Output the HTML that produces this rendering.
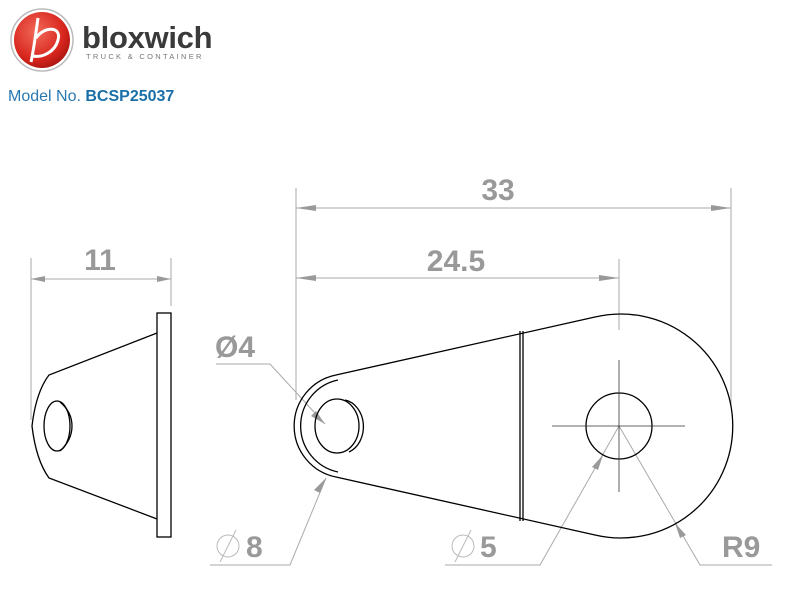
<!DOCTYPE html>
<html><head><meta charset="utf-8"><style>
html,body{margin:0;padding:0;background:#fff;width:800px;height:590px;overflow:hidden}
</style></head><body>
<svg width="800" height="590" viewBox="0 0 800 590" xmlns="http://www.w3.org/2000/svg">
<defs>
<radialGradient id="rg" cx="0.4" cy="0.35" r="0.7"><stop offset="0" stop-color="#f26a5a"/><stop offset="0.7" stop-color="#d8261e"/><stop offset="1" stop-color="#a9140f"/></radialGradient>
</defs>
<circle cx="42" cy="40" r="31" fill="#fff" stroke="#bbb" stroke-width="1.5"/>
<circle cx="42" cy="40" r="28" fill="url(#rg)"/>
<path d="M38,18 C36,32 34,48 31,62 M36,38 C44,26 62,26 58,40 C55,52 42,58 33,56" fill="none" stroke="#fff" stroke-width="3"/>
<text x="82" y="48" font-family="Liberation Sans, sans-serif" font-weight="bold" font-size="31" fill="#3a3a3a" letter-spacing="-0.3">bloxwich</text>
<text x="86" y="59" font-family="Liberation Sans, sans-serif" font-size="7.5" fill="#777" letter-spacing="2.3">TRUCK &amp; CONTAINER</text>
<text x="8" y="101" font-family="Liberation Sans, sans-serif" font-size="16" fill="#2a78b0">Model No. <tspan font-weight="bold" fill="#1a6fa8">BCSP25037</tspan></text>

<g stroke="#aaa" stroke-width="1" fill="none">
<line x1="31" y1="258" x2="31" y2="420"/><line x1="171" y1="258" x2="171" y2="306"/>
<line x1="31" y1="279" x2="171" y2="279"/>
<line x1="296" y1="188" x2="296" y2="400"/><line x1="731" y1="188" x2="731" y2="405"/>
<line x1="296" y1="208" x2="731" y2="208"/>
<line x1="296" y1="278" x2="619" y2="278"/>
<line x1="619" y1="259" x2="619" y2="330"/>
<polyline points="216,364 270,364 325,424"/>
<polyline points="210,565 290,565 326,478"/>
<polyline points="445,565 540,565 619,426"/>
<polyline points="619,426 700,565 772,565"/>
</g>
<g fill="#999">
<polygon points="31,279 45,276 45,282"/><polygon points="171,279 157,276 157,282"/>
<polygon points="296,208 316,205 316,211"/><polygon points="731,208 711,205 711,211"/>
<polygon points="296,278 316,275 316,281"/><polygon points="619,278 599,275 599,281"/>
<polygon points="325,424 311,416 316,411"/>
<polygon points="326,478 320,493 314,490"/>
<polygon points="603,455 598,470 592,467"/>
<polygon points="675,523 686,535 680,538"/>
</g>
<g font-family="Liberation Sans, sans-serif" font-weight="bold" font-size="30" fill="#999">
<text x="100" y="270" text-anchor="middle">11</text>
<text x="498" y="200" text-anchor="middle">33</text>
<text x="456" y="271" text-anchor="middle">24.5</text>
<text x="215" y="357">Ø4</text>
<text x="246" y="557">8</text>
<text x="480" y="557">5</text>
<text x="722" y="557">R9</text>
</g>
<g stroke="#bbb" fill="none" stroke-width="1">
<circle cx="228" cy="546" r="11"/><line x1="220" y1="562" x2="236" y2="530"/>
<circle cx="463" cy="546" r="11"/><line x1="455" y1="562" x2="471" y2="530"/>
</g>

<g stroke="#000" stroke-width="1.3" fill="none">
<rect x="157" y="313" width="14" height="224"/>
<path d="M157,333 L49,375 Q36,392 32,426 Q36,460 49,478 L157,519"/>
<ellipse cx="57" cy="426" rx="13" ry="25"/>
<path d="M60,402 Q72,412 72,426 Q72,440 60,451"/>
<path d="M336,375 L595,317 A112,112 0 1 1 595,535 L336,477 A52,52 0 0 1 336,375 Z"/>
<path d="M338,380 A47,47 0 0 0 338,472"/>
<line x1="520" y1="331" x2="520" y2="521"/>
<line x1="523" y1="331" x2="523" y2="521"/>
<ellipse cx="337" cy="426" rx="22" ry="27"/>
<path d="M345,400 A22,27 0 0 1 349,452"/>
<circle cx="619" cy="426" r="33"/>
</g>
<g stroke="#333" stroke-width="0.8">
<line x1="552" y1="426" x2="685" y2="426"/>
<line x1="619" y1="360" x2="619" y2="492"/>
</g>
</svg>
</body></html>
